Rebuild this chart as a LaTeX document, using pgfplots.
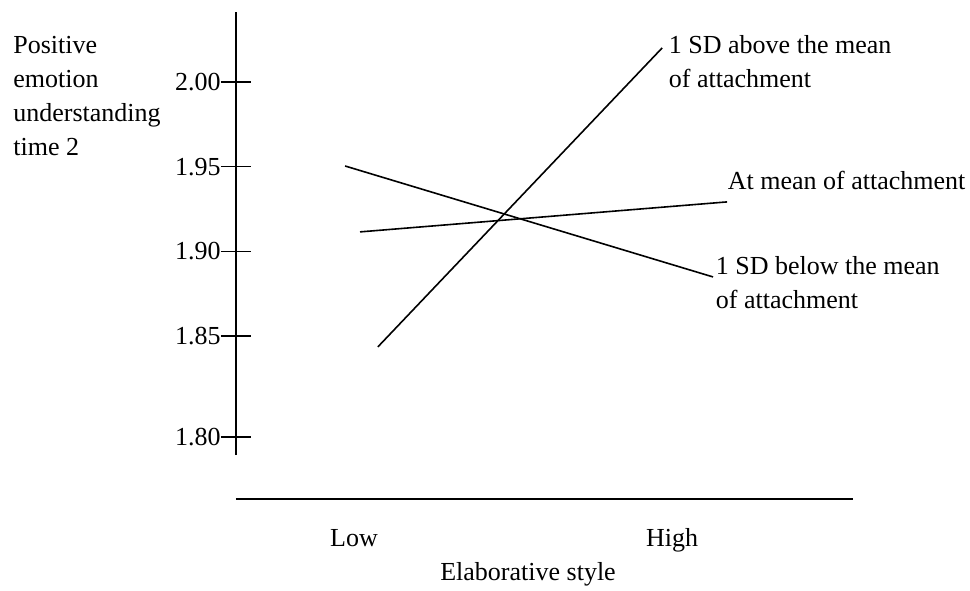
\documentclass[border=0pt]{standalone}
\usepackage{fontspec}
\setmainfont{Liberation Serif}
\usepackage{pgfplots}
\pgfplotsset{compat=1.18}
\begin{document}
\begin{tikzpicture}[font=\fontsize{13}{17}\selectfont]
\useasboundingbox (-118pt,-67.5pt) rectangle (367pt,227.5pt);
% main axis: vertical scale and the three simple slopes
\begin{axis}[
    at={(0,0)}, anchor=south west,
    scale only axis,
    width=308.5pt, height=221.5pt,
    xmin=-0.371, xmax=1.569,
    ymin=1.7798, ymax=2.0413,
    axis y line=left, axis x line=none,
    axis line style={-, line width=0.9pt},
    xtick=\empty,
    ytick={1.7904,1.85,1.90,1.95,2.00},
    yticklabels={1.80,1.85,1.90,1.95,2.00},
    tick align=center, major tick length=15pt,
    tick style={line width=0.8pt, black},
    yticklabel style={inner sep=0pt},
    clip=false,
]
\addplot[black, line width=0.8pt, mark=none] coordinates {(0.075,1.8436) (0.969,2.0201)}
    node[pos=1, anchor=north west, xshift=3pt, yshift=6.5pt, align=left, inner sep=0pt]
    {1 SD above the mean\\of attachment};
\addplot[black, line width=0.8pt, mark=none] coordinates {(0.019,1.9115) (1.173,1.9292)}
    node[pos=1, anchor=south west, xshift=0pt, yshift=5.5pt, inner sep=0pt]
    {At mean of attachment};
\addplot[black, line width=0.8pt, mark=none] coordinates {(-0.028,1.9504) (1.129,1.8849)}
    node[pos=1, anchor=north west, xshift=1pt, yshift=10.5pt, align=left, inner sep=0pt]
    {1 SD below the mean\\of attachment};
\node[anchor=north west, align=left, inner sep=0pt, xshift=-111.5pt, yshift=-12pt]
    at (rel axis cs:0,1) {Positive\\emotion\\understanding\\time 2};
\end{axis}
% separate horizontal axis below
\begin{axis}[
    at={(0,-22pt)}, anchor=south west,
    scale only axis,
    width=308.5pt, height=20pt,
    xmin=-0.371, xmax=1.569, ymin=0, ymax=1,
    axis x line=bottom, axis y line=none,
    axis line style={-, line width=0.9pt},
    xtick={0,1}, xticklabels={Low,High}, ytick=\empty,
    major tick length=0pt,
    xticklabel style={anchor=base, inner sep=0pt, yshift=-23.5pt},
    xlabel={Elaborative style},
    xlabel style={at={(axis description cs:0.4733,0)}, anchor=base, inner sep=0pt, yshift=-40.5pt},
]
\end{axis}
\end{tikzpicture}
\end{document}
